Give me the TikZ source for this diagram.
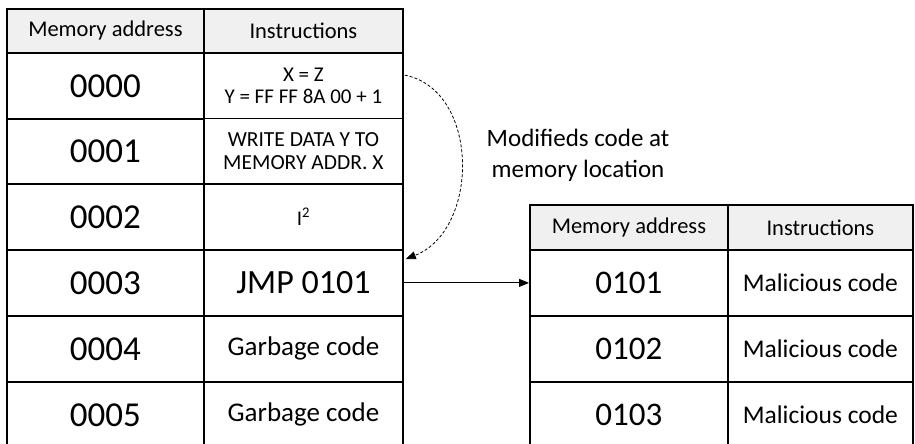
\documentclass[tikz,border=0pt]{standalone}
\usepackage{fontspec}
\setmainfont{Carlito}
\usetikzlibrary{arrows.meta,calc}
\newcommand{\fs}[1]{\fontsize{#1}{#1}\selectfont}
\tikzset{
  cell/.style={draw=black, line width=1.8pt, inner sep=0pt, align=center, anchor=north west},
  headcell/.style={cell, fill=black!6, font=\fs{22.5}},
  addrcell/.style={cell, font=\fs{35}},
  instcell/.style={cell},
  link/.style={line width=0.9pt, -{Triangle[length=10pt,width=8pt]}},
  jump/.style={line width=0.8pt, dash pattern=on 3pt off 2pt, -{Triangle[length=10pt,width=8pt]}}
}
\begin{document}
\begin{tikzpicture}[x=1pt,y=-1pt]
\useasboundingbox (0,0) rectangle (915,444);
% left memory table
\node[headcell, minimum width=197pt, minimum height=44pt] (lh1) at (6,8) {Memory address};
\node[headcell, minimum width=199pt, minimum height=44pt] (lh2) at (203,8) {Instructions};
\foreach \n/\y in {0/52,1/117.5,2/183,3/249,4/315,5/381}{
  \node[addrcell, minimum width=197pt, minimum height=66pt] (a\n) at (6,\y) {000\n};
}
\node[instcell, minimum width=199pt, minimum height=65.5pt, font=\fs{21}] (i0) at (203,52) {X = Z\\[1pt]Y = FF FF 8A 00 + 1};
\node[instcell, minimum width=199pt, minimum height=65.5pt, font=\fs{21.5}] (i1) at (203,117.5) {WRITE DATA Y TO\\[1pt]MEMORY ADDR. X};
\node[instcell, minimum width=199pt, minimum height=66pt, font=\fs{21}] (i2) at (203,183) {I\textsuperscript{2}};
\node[instcell, minimum width=199pt, minimum height=66pt, font=\fs{34}] (i3) at (203,249) {JMP 0101};
\node[instcell, minimum width=199pt, minimum height=66pt, font=\fs{27}] (i4) at (203,315) {Garbage code};
\node[instcell, minimum width=199pt, minimum height=66pt, font=\fs{27}] (i5) at (203,381) {Garbage code};
% right memory table
\node[headcell, minimum width=198pt, minimum height=45pt] (rh1) at (529,204) {Memory address};
\node[headcell, minimum width=185pt, minimum height=45pt] (rh2) at (727,204) {Instructions};
\foreach \n/\y in {1/249,2/315,3/381}{
  \node[addrcell, minimum width=198pt, minimum height=66pt, font=\fs{33}] (b\n) at (529,\y) {010\n};
  \node[instcell, minimum width=185pt, minimum height=66pt, font=\fs{25.5}] (m\n) at (727,\y) {Malicious code};
}
% caption of the self-modifying step
\node[font=\fs{25}, align=center] (lbl) at (578,155) {Modifieds code at\\[6pt]memory location};
% connectors
\coordinate (js) at ($(i0.east)+(1,-10.5)$);
\coordinate (je) at ($(i3.north east)+(2,10)$);
\draw[jump] (js) .. controls (480,90) and (480,230) .. (je);
\draw[link] (i3.east) -- (b1.west);
\end{tikzpicture}
\end{document}
